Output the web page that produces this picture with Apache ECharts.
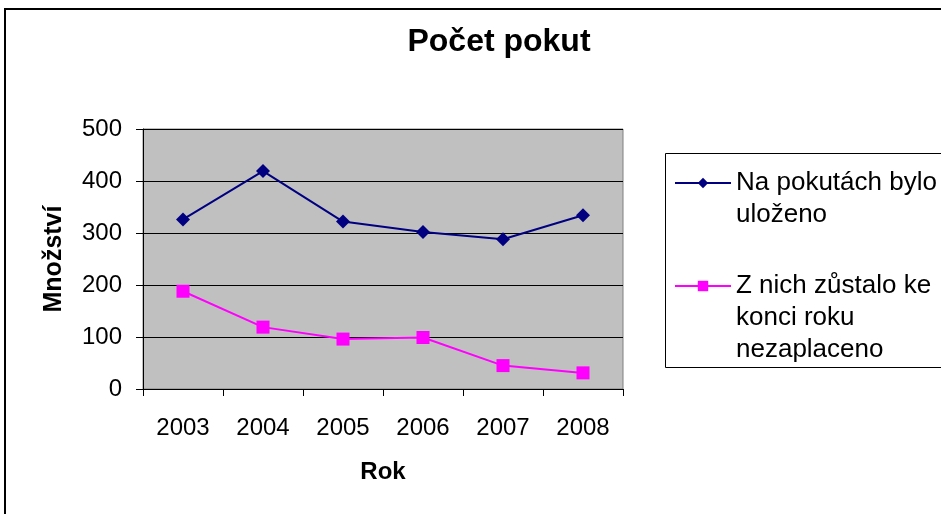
<!DOCTYPE html>
<html>
<head>
    <meta charset="UTF-8">
    <title>Počet pokut</title>
    <script src="https://cdn.jsdelivr.net/npm/echarts@6/dist/echarts.min.js"></script>
</head>
<body style="margin:0">
<div id="main" style="width: 941px;height:514px;"></div>
<script type="text/javascript">
    // data
    var years = ['2003', '2004', '2005', '2006', '2007', '2008'];
    var ulozeno = [326, 419, 322, 302, 288, 334];
    var nezaplaceno = [188, 119, 96, 99, 45, 31];
    var name1 = 'Na pokutách bylo\nuloženo';
    var name2 = 'Z nich zůstalo ke\nkonci roku\nnezaplaceno';

    var font = 'Liberation Sans, Arial, sans-serif';
    var myChart = echarts.init(document.getElementById('main'));

    // legend text is centred on the icon, so pad with empty lines above
    // to put the icon beside the first line, as in Excel
    function padTop(name) {
        var n = name.split('\n').length - 1;
        var pre = '';
        for (var i = 0; i < n; i++) pre += ' \n';
        return pre + name;
    }

    var legendBase = {
        left: 669,
        orient: 'vertical',
        itemWidth: 56,
        itemHeight: 13,
        formatter: padTop,
        textStyle: { fontFamily: font, fontSize: 26, color: '#000', lineHeight: 32 }
    };

    var option = {
        backgroundColor: '#fff',
        animation: false,
        title: {
            text: 'Počet pokut',
            left: 494,
            top: 21,
            textAlign: 'center',
            textStyle: { fontFamily: font, fontSize: 32, fontWeight: 'bold', color: '#000' }
        },
        graphic: [{
            type: 'rect',
            shape: { x: 5, y: 9, width: 960, height: 540 },
            style: { fill: 'none', stroke: '#000', lineWidth: 2 },
            z: 100
        }, {
            type: 'rect',
            shape: { x: 665.5, y: 153.5, width: 300, height: 214 },
            style: { fill: 'none', stroke: '#000', lineWidth: 1 }
        }],
        legend: [
            echarts.util.merge({ data: [name1], top: 130 }, legendBase),
            echarts.util.merge({ data: [name2], top: 201 }, legendBase)
        ],
        grid: {
            left: 143,
            top: 129,
            width: 480,
            height: 260,
            show: true,
            backgroundColor: '#C0C0C0',
            borderColor: '#808080',
            borderWidth: 1
        },
        xAxis: {
            type: 'category',
            data: years,
            boundaryGap: true,
            name: 'Rok',
            nameLocation: 'middle',
            nameGap: 71,
            nameTextStyle: { fontFamily: font, fontSize: 24, fontWeight: 'bold', color: '#000' },
            axisLine: { lineStyle: { color: '#000', width: 1 } },
            axisTick: { show: true, length: 7, lineStyle: { color: '#000' } },
            axisLabel: { fontFamily: font, fontSize: 24, color: '#000', margin: 27 },
            splitLine: { show: false }
        },
        yAxis: {
            type: 'value',
            min: 0,
            max: 500,
            interval: 100,
            name: 'Množství',
            nameLocation: 'middle',
            nameGap: 76,
            nameTextStyle: { fontFamily: font, fontSize: 25, fontWeight: 'bold', color: '#000' },
            axisLine: { show: true, lineStyle: { color: '#000', width: 1 } },
            axisTick: { show: true, length: 7, lineStyle: { color: '#000' } },
            axisLabel: { fontFamily: font, fontSize: 24, color: '#000', margin: 21 },
            splitLine: { show: true, lineStyle: { color: '#000', width: 1 } }
        },
        series: [{
            name: name1,
            type: 'line',
            data: ulozeno,
            symbol: 'diamond',
            symbolSize: 14,
            itemStyle: { color: '#000080' },
            lineStyle: { color: '#000080', width: 2 }
        }, {
            name: name2,
            type: 'line',
            data: nezaplaceno,
            symbol: 'rect',
            symbolSize: 13,
            itemStyle: { color: '#FF00FF' },
            lineStyle: { color: '#FF00FF', width: 2 }
        }]
    };
    myChart.setOption(option);
</script>
</body>
</html>
